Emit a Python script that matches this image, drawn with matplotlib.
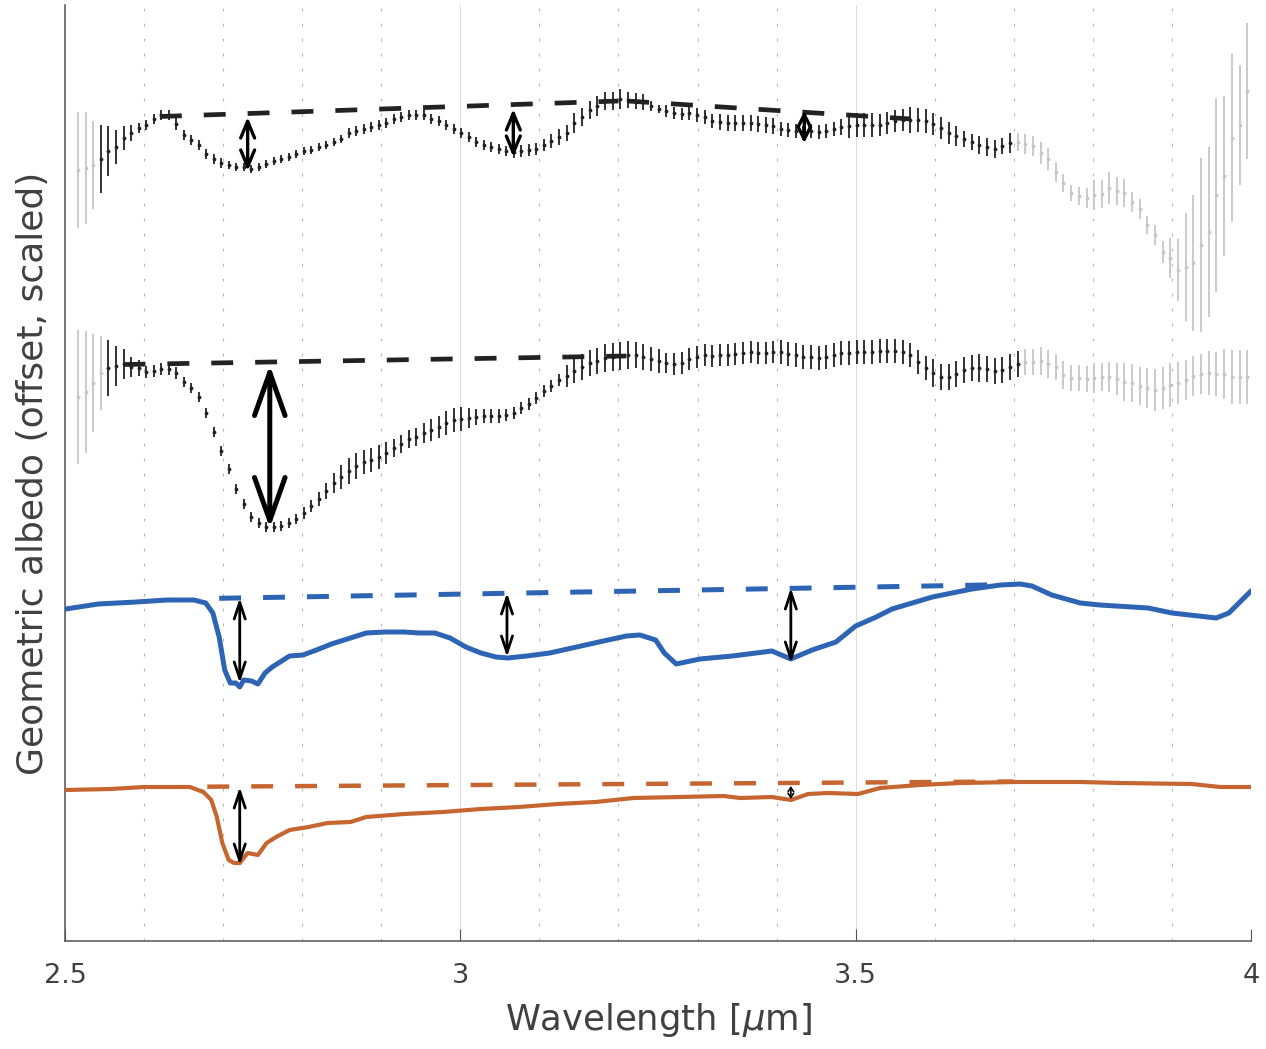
import matplotlib
matplotlib.use('Agg')
import matplotlib.pyplot as plt, numpy as np
from matplotlib.patches import FancyArrowPatch
from matplotlib.ticker import MultipleLocator

# Wavelength grid of the two spectra with error bars (um)
wl = [2.517, 2.526, 2.536, 2.545, 2.555, 2.564, 2.574, 2.583, 2.593, 2.602,
      2.612, 2.621, 2.631, 2.640, 2.650, 2.659, 2.669, 2.678, 2.688, 2.697,
      2.707, 2.716, 2.726, 2.735, 2.745, 2.754, 2.764, 2.773, 2.783, 2.792,
      2.802, 2.811, 2.821, 2.830, 2.840, 2.849, 2.859, 2.868, 2.878, 2.887,
      2.897, 2.906, 2.916, 2.925, 2.935, 2.944, 2.954, 2.963, 2.973, 2.982,
      2.992, 3.001, 3.011, 3.020, 3.030, 3.039, 3.049, 3.058, 3.068, 3.077,
      3.087, 3.096, 3.106, 3.115, 3.125, 3.135, 3.144, 3.154, 3.164, 3.173,
      3.183, 3.193, 3.202, 3.212, 3.222, 3.231, 3.241, 3.251, 3.260, 3.270,
      3.280, 3.289, 3.299, 3.309, 3.318, 3.328, 3.338, 3.347, 3.357, 3.367,
      3.376, 3.386, 3.395, 3.405, 3.415, 3.424, 3.434, 3.444, 3.453, 3.463,
      3.473, 3.482, 3.492, 3.502, 3.511, 3.521, 3.531, 3.540, 3.550, 3.560,
      3.569, 3.579, 3.589, 3.598, 3.608, 3.618, 3.627, 3.637, 3.647, 3.656,
      3.666, 3.676, 3.685, 3.695, 3.705, 3.714, 3.724, 3.734, 3.743, 3.753,
      3.762, 3.772, 3.782, 3.792, 3.801, 3.811, 3.821, 3.830, 3.840, 3.850,
      3.859, 3.869, 3.879, 3.889, 3.898, 3.908, 3.918, 3.927, 3.937, 3.947,
      3.956, 3.966, 3.976, 3.986, 3.995]

# Top spectrum (offset, scaled albedo) and 1-sigma errors
top_y = [7.71, 7.73, 7.76, 7.82, 7.90, 7.94, 8.03, 8.08, 8.13, 8.16,
         8.22, 8.26, 8.26, 8.17, 8.06, 8.01, 7.96, 7.87, 7.82, 7.78,
         7.76, 7.74, 7.74, 7.72, 7.74, 7.77, 7.80, 7.82, 7.84, 7.87,
         7.90, 7.91, 7.94, 7.96, 7.99, 8.02, 8.08, 8.10, 8.12, 8.14,
         8.16, 8.18, 8.22, 8.24, 8.26, 8.26, 8.26, 8.22, 8.20, 8.16,
         8.12, 8.08, 8.04, 7.99, 7.96, 7.94, 7.92, 7.90, 7.89, 7.90,
         7.91, 7.92, 7.96, 8.00, 8.04, 8.08, 8.18, 8.24, 8.31, 8.35,
         8.40, 8.40, 8.42, 8.41, 8.40, 8.39, 8.35, 8.32, 8.30, 8.28,
         8.27, 8.28, 8.26, 8.24, 8.20, 8.19, 8.18, 8.18, 8.18, 8.18,
         8.17, 8.16, 8.15, 8.12, 8.11, 8.10, 8.08, 8.10, 8.09, 8.10,
         8.12, 8.14, 8.15, 8.16, 8.16, 8.16, 8.16, 8.18, 8.20, 8.21,
         8.21, 8.21, 8.20, 8.17, 8.13, 8.08, 8.05, 8.02, 7.99, 7.96,
         7.94, 7.92, 7.95, 7.98, 7.99, 7.97, 7.95, 7.88, 7.82, 7.69,
         7.58, 7.48, 7.45, 7.43, 7.46, 7.47, 7.53, 7.50, 7.48, 7.39,
         7.32, 7.16, 7.06, 6.89, 6.83, 6.71, 6.74, 6.78, 6.96, 7.09,
         7.46, 7.65, 8.03, 8.16, 8.50]
top_err = [.58, .56, .44, .34, .25, .17, .12, .08, .05, .05,
           .05, .05, .05, .06, .05, .05, .05, .05, .05, .05,
           .04, .04, .04, .04, .04, .04, .04, .04, .04, .04,
           .04, .04, .04, .04, .04, .04, .05, .05, .05, .05,
           .05, .05, .05, .05, .05, .05, .05, .05, .05, .05,
           .05, .05, .05, .05, .05, .05, .05, .05, .06, .06,
           .06, .06, .06, .07, .08, .08, .10, .09, .09, .10,
           .09, .09, .10, .08, .08, .08, .05, .04, .06, .06,
           .06, .07, .07, .07, .07, .08, .08, .08, .08, .08,
           .08, .08, .08, .07, .07, .07, .07, .07, .07, .07,
           .07, .08, .12, .12, .12, .12, .11, .11, .11, .11,
           .13, .12, .12, .11, .11, .11, .10, .08, .08, .09,
           .09, .09, .08, .10, .09, .10, .10, .11, .11, .10,
           .09, .08, .09, .10, .15, .14, .16, .14, .14, .10,
           .10, .09, .10, .11, .20, .31, .54, .68, .87, .85,
           .97, .80, .84, .60, .68]
top_fit = (2.54, 3.70)   # wavelengths used (black), rest grey

# Middle spectrum
mid_y = [5.44, 5.49, 5.58, 5.68, 5.73, 5.75, 5.77, 5.74, 5.73, 5.69,
         5.70, 5.72, 5.72, 5.68, 5.59, 5.53, 5.44, 5.28, 5.09, 4.90,
         4.72, 4.52, 4.37, 4.24, 4.18, 4.14, 4.14, 4.15, 4.18, 4.22,
         4.28, 4.35, 4.42, 4.50, 4.58, 4.64, 4.70, 4.75, 4.79, 4.81,
         4.84, 4.88, 4.93, 4.97, 5.02, 5.04, 5.08, 5.11, 5.14, 5.18,
         5.21, 5.22, 5.23, 5.24, 5.25, 5.25, 5.25, 5.26, 5.28, 5.33,
         5.37, 5.43, 5.50, 5.55, 5.61, 5.65, 5.70, 5.74, 5.78, 5.80,
         5.83, 5.84, 5.85, 5.86, 5.86, 5.84, 5.82, 5.80, 5.78, 5.77,
         5.78, 5.82, 5.84, 5.86, 5.85, 5.86, 5.86, 5.87, 5.88, 5.89,
         5.88, 5.88, 5.89, 5.89, 5.87, 5.86, 5.84, 5.84, 5.83, 5.84,
         5.86, 5.88, 5.88, 5.89, 5.89, 5.89, 5.90, 5.90, 5.90, 5.89,
         5.86, 5.79, 5.73, 5.68, 5.64, 5.64, 5.67, 5.71, 5.73, 5.73,
         5.72, 5.70, 5.71, 5.74, 5.77, 5.79, 5.79, 5.80, 5.77, 5.74,
         5.66, 5.63, 5.63, 5.62, 5.63, 5.64, 5.64, 5.62, 5.59, 5.58,
         5.55, 5.53, 5.51, 5.53, 5.56, 5.58, 5.61, 5.65, 5.67, 5.68,
         5.67, 5.67, 5.64, 5.64, 5.64]
mid_err = [.67, .61, .49, .37, .28, .20, .15, .10, .08, .06,
           .06, .06, .06, .06, .05, .05, .05, .05, .05, .05,
           .05, .05, .05, .05, .05, .05, .05, .05, .05, .05,
           .06, .06, .07, .08, .10, .12, .13, .13, .12, .12,
           .12, .11, .09, .09, .09, .09, .10, .11, .11, .12,
           .12, .12, .10, .08, .07, .07, .07, .06, .06, .06,
           .06, .06, .06, .06, .06, .11, .12, .13, .13, .13,
           .14, .14, .14, .14, .13, .13, .12, .12, .10, .11,
           .11, .11, .11, .11, .11, .11, .11, .11, .11, .11,
           .11, .11, .11, .12, .12, .12, .12, .12, .12, .12,
           .12, .12, .12, .12, .12, .12, .12, .12, .12, .12,
           .12, .12, .12, .14, .13, .13, .13, .13, .13, .14,
           .13, .13, .13, .13, .13, .13, .13, .14, .14, .13,
           .14, .13, .13, .13, .15, .14, .15, .16, .19, .19,
           .19, .20, .21, .21, .22, .21, .20, .20, .20, .22,
           .22, .25, .27, .27, .27]
mid_fit = (2.55, 3.71)

# Lab spectra (solid curves)
blue_x = [2.501, 2.542, 2.590, 2.629, 2.663, 2.678, 2.687, 2.695, 2.702, 2.709,
          2.716, 2.721, 2.726, 2.736, 2.744, 2.753, 2.762, 2.772, 2.784, 2.801,
          2.818, 2.837, 2.861, 2.881, 2.905, 2.929, 2.948, 2.968, 2.987, 3.007,
          3.026, 3.045, 3.060, 3.084, 3.113, 3.147, 3.181, 3.210, 3.227, 3.247,
          3.258, 3.273, 3.303, 3.344, 3.394, 3.418, 3.445, 3.475, 3.500, 3.526,
          3.546, 3.597, 3.647, 3.683, 3.708, 3.723, 3.748, 3.784, 3.809, 3.870,
          3.900, 3.956, 3.972, 4.000]
blue_y = [3.32, 3.37, 3.39, 3.41, 3.41, 3.38, 3.28, 3.04, 2.71, 2.58,
          2.58, 2.54, 2.61, 2.60, 2.57, 2.68, 2.74, 2.79, 2.85, 2.86,
          2.91, 2.97, 3.03, 3.08, 3.09, 3.09, 3.08, 3.08, 3.03, 2.94,
          2.88, 2.84, 2.83, 2.85, 2.88, 2.94, 3.00, 3.05, 3.06, 3.01,
          2.88, 2.77, 2.82, 2.85, 2.90, 2.82, 2.91, 2.99, 3.15, 3.24,
          3.32, 3.44, 3.52, 3.56, 3.57, 3.55, 3.46, 3.38, 3.36, 3.33,
          3.28, 3.23, 3.28, 3.50]
orange_x = [2.501, 2.557, 2.600, 2.639, 2.658, 2.675, 2.685, 2.692, 2.699, 2.707,
            2.714, 2.721, 2.731, 2.744, 2.755, 2.767, 2.784, 2.808, 2.832, 2.861,
            2.881, 2.929, 2.978, 3.026, 3.074, 3.123, 3.171, 3.219, 3.278, 3.333,
            3.354, 3.394, 3.418, 3.440, 3.465, 3.503, 3.531, 3.581, 3.632, 3.703,
            3.784, 3.834, 3.925, 3.961, 4.000]
orange_y = [1.51, 1.52, 1.54, 1.54, 1.54, 1.49, 1.41, 1.24, 0.98, 0.81,
            0.78, 0.78, 0.88, 0.86, 0.98, 1.04, 1.11, 1.14, 1.18, 1.19,
            1.24, 1.27, 1.29, 1.32, 1.34, 1.37, 1.39, 1.43, 1.44, 1.45,
            1.43, 1.44, 1.41, 1.47, 1.48, 1.47, 1.53, 1.56, 1.58, 1.59,
            1.59, 1.58, 1.57, 1.54, 1.54]

# Linear continua (dashed)
top_cont = [([2.620, 3.200], [8.245, 8.40]), ([3.211, 3.570], [8.40, 8.22])]
mid_cont = [([2.574, 3.210], [5.765, 5.85])]
blue_cont = [([2.695, 3.700], [3.427, 3.565])]
orange_cont = [([2.680, 3.700], [1.543, 1.595])]

# Band depth arrows: wavelength, continuum level, band bottom
top_arr = [(2.731, 8.24, 7.70), (3.067, 8.32, 7.84), (3.435, 8.30, 7.98)]
mid_arr = [(2.759, 5.76, 4.13)]
blue_arr = [(2.721, 3.43, 2.58), (3.059, 3.48, 2.84), (3.418, 3.53, 2.78)]
orange_arr = [(2.721, 1.54, 0.76), (3.418, 1.55, 1.42)]

BLUE = '#2d64b3'
ORANGE = '#c6652f'
DARK = '#222222'
GREY = '#c6c6c6'

fig = plt.figure(figsize=(12.66, 10.49), dpi=100)
ax = fig.add_axes([65/1266, 108/1049, 1186/1266, 936/1049])
ax.set_xlim(2.5, 4)
ax.set_ylim(0, 9.36)

wl_a = np.array(wl)

def spectrum(y, err, fit):
    y, err = np.array(y), np.array(err)
    used = (wl_a >= fit[0]) & (wl_a <= fit[1])
    for m, c in ((~used, GREY), (used, DARK)):
        ax.errorbar(wl_a[m], y[m], yerr=err[m], fmt='.', ms=3.5, color=c,
                    ecolor=c, elinewidth=1.3, capsize=0, zorder=2)

spectrum(top_y, top_err, top_fit)
spectrum(mid_y, mid_err, mid_fit)

ax.plot(blue_x, blue_y, color=BLUE, lw=3.6, solid_joinstyle='round',
        solid_capstyle='round', zorder=3)
ax.plot(orange_x, orange_y, color=ORANGE, lw=3.0, solid_joinstyle='round',
        solid_capstyle='round', zorder=3)

for segs, c, lw in ((top_cont, DARK, 3.4), (mid_cont, DARK, 3.4),
                    (blue_cont, BLUE, 3.6), (orange_cont, ORANGE, 3.2)):
    for xs, ys in segs:
        ax.plot(xs, ys, color=c, lw=lw, ls=(0, (15.8/lw, 15.8/lw)),
                dash_capstyle='butt', zorder=4)

def arrows(lst, lw, hl, hw):
    for x, y0, y1 in lst:
        ax.add_patch(FancyArrowPatch((x, y0), (x, y1),
                     arrowstyle=f'<->,head_length={hl},head_width={hw}',
                     mutation_scale=1, lw=lw, color='k',
                     shrinkA=0, shrinkB=0, zorder=6))

arrows(top_arr[:2], 2.4, 12, 5)
arrows(top_arr[2:], 2.4, 9, 4.5)
arrows(mid_arr, 3.6, 31, 11)
arrows(blue_arr, 2.0, 12, 4)
arrows(orange_arr[:1], 2.0, 12, 4)
arrows(orange_arr[1:], 1.2, 3, 2)

# axes styling
ax.set_xticks([2.5, 3, 3.5, 4])
ax.set_xticklabels(['2.5', '3', '3.5', '4'])
ax.xaxis.set_minor_locator(MultipleLocator(0.1))
ax.set_yticks([])
ax.grid(which='major', axis='x', color='#dedede', lw=0.8, zorder=0)
ax.grid(which='minor', axis='x', color='#b4b4b4', lw=0.8, ls=(0, (2.5, 11)), zorder=0)
ax.set_axisbelow(True)
for s in ('top', 'right'):
    ax.spines[s].set_visible(False)
for s in ('left', 'bottom'):
    ax.spines[s].set_color('#555555')
    ax.spines[s].set_linewidth(1.1)
ax.tick_params(axis='x', which='major', direction='in', length=8.5, width=0.8,
               color='#555555', labelsize=19.5, labelcolor='#404040', pad=16)
ax.tick_params(axis='x', which='minor', length=0)

ax.set_xlabel(r'Wavelength [$\mu$m]', fontsize=25.5, color='#404040')
ax.set_ylabel('Geometric albedo (offset, scaled)', fontsize=26, color='#404040')
ax.xaxis.set_label_coords(0.5, -0.064)
ax.yaxis.set_label_coords(-0.013, 0.5)

fig.savefig('out.png', dpi=100)
